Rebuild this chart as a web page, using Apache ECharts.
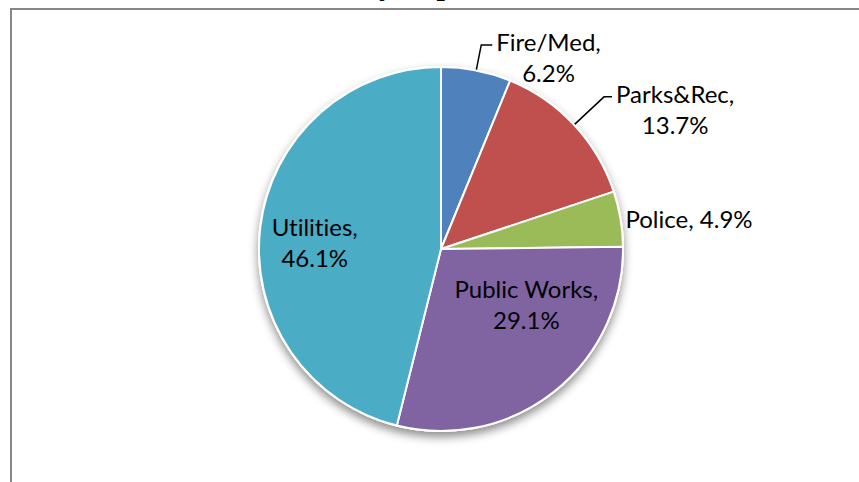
<!DOCTYPE html>
<html>
<head>
<meta charset="utf-8">
<script src="https://cdn.jsdelivr.net/npm/echarts@6/dist/echarts.min.js"></script>
<style>
  html, body { margin: 0; padding: 0; background: #ffffff; }
  #chart { width: 859px; height: 482px; }
  #chart text { font-variant-ligatures: none !important; }
</style>
</head>
<body>
<div id="chart"></div>
<script>
// Department shares of the total (percent)
const categories = ['Fire/Med', 'Parks&Rec', 'Police', 'Public Works', 'Utilities'];
const shares = [6.2, 13.7, 4.9, 29.1, 46.1];
const titleText = 'Annual Cost by Department, 2013';

// Styling tables
const sliceColors = {
  'Fire/Med': '#4F81BD',
  'Parks&Rec': '#C0504D',
  'Police': '#9BBB59',
  'Public Works': '#8064A2',
  'Utilities': '#4BACC6'
};
const insideLabels = { 'Public Works': [27, -19], 'Utilities': [-33, 4] };
const outsideLines = { 'Fire/Med': [26, 11], 'Parks&Rec': [41, 8] };
const singleLine = { 'Police': true };

const labelFont = { fontFamily: 'Lato', fontSize: 24, lineHeight: 31, color: '#000' };

const pieData = categories.map((name, i) => {
  const item = { name: name, value: shares[i], itemStyle: { color: sliceColors[name] } };
  if (insideLabels[name]) {
    item.label = { position: 'inside' };
    item.labelLine = { show: false };
  } else if (outsideLines[name]) {
    item.label = { position: 'outside', padding: [24, 0, 0, 0], distanceToLabelLine: 4 };
    item.labelLine = { show: true, length: outsideLines[name][0], length2: outsideLines[name][1] };
  } else {
    item.label = { position: 'outside', distanceToLabelLine: 5 };
    item.labelLine = { show: false, length: 0, length2: 0 };
  }
  return item;
});

const total = shares.reduce((a, b) => a + b, 0);
const center = [441, 249];
const radius = 182;

const chart = echarts.init(document.getElementById('chart'), null, { renderer: 'svg' });
chart.setOption({
  animation: false,
  backgroundColor: '#ffffff',
  graphic: [
    {
      type: 'rect',
      shape: { x: 11, y: 9, width: 900, height: 520 },
      style: { fill: 'none', stroke: '#878787', lineWidth: 2 },
      silent: true,
      z: -1
    },
    {
      type: 'text',
      x: 194,
      y: -1,
      style: {
        text: titleText,
        font: 'bold 30px "Liberation Serif"',
        fill: '#000',
        verticalAlign: 'bottom',
        align: 'left'
      },
      silent: true
    }
  ],
  series: [
    {
      // backing disk that casts the drop shadow
      type: 'pie',
      center: center,
      radius: radius,
      silent: true,
      z: 1,
      label: { show: false },
      labelLine: { show: false },
      emphasis: { disabled: true },
      itemStyle: {
        color: '#ffffff',
        borderColor: '#ffffff',
        borderWidth: 2,
        shadowBlur: 10,
        shadowOffsetY: 5,
        shadowColor: 'rgba(0,0,0,0.45)'
      },
      data: [{ name: '', value: total }]
    },
    {
      type: 'pie',
      center: center,
      radius: radius,
      startAngle: 90,
      clockwise: true,
      z: 2,
      avoidLabelOverlap: false,
      emphasis: { disabled: true },
      itemStyle: { borderColor: '#ffffff', borderWidth: 2 },
      label: {
        show: true,
        formatter: function (p) {
          if (singleLine[p.name]) return '{t|' + p.name + ', ' + p.value + '%}';
          return '{t|' + p.name + ',}\n{t|' + p.value + '%}';
        },
        rich: {
          t: Object.assign({ align: 'center' }, labelFont)
        },
        fontFamily: labelFont.fontFamily,
        fontSize: labelFont.fontSize,
        lineHeight: labelFont.lineHeight,
        color: '#000'
      },
      labelLine: {
        smooth: false,
        lineStyle: { color: '#000', width: 1.5 }
      },
      labelLayout: function (params) {
        const name = categories[params.dataIndex];
        const off = insideLabels[name];
        if (off) return { dx: off[0], dy: off[1] };
        return {};
      },
      data: pieData
    }
  ]
});
</script>
</body>
</html>
